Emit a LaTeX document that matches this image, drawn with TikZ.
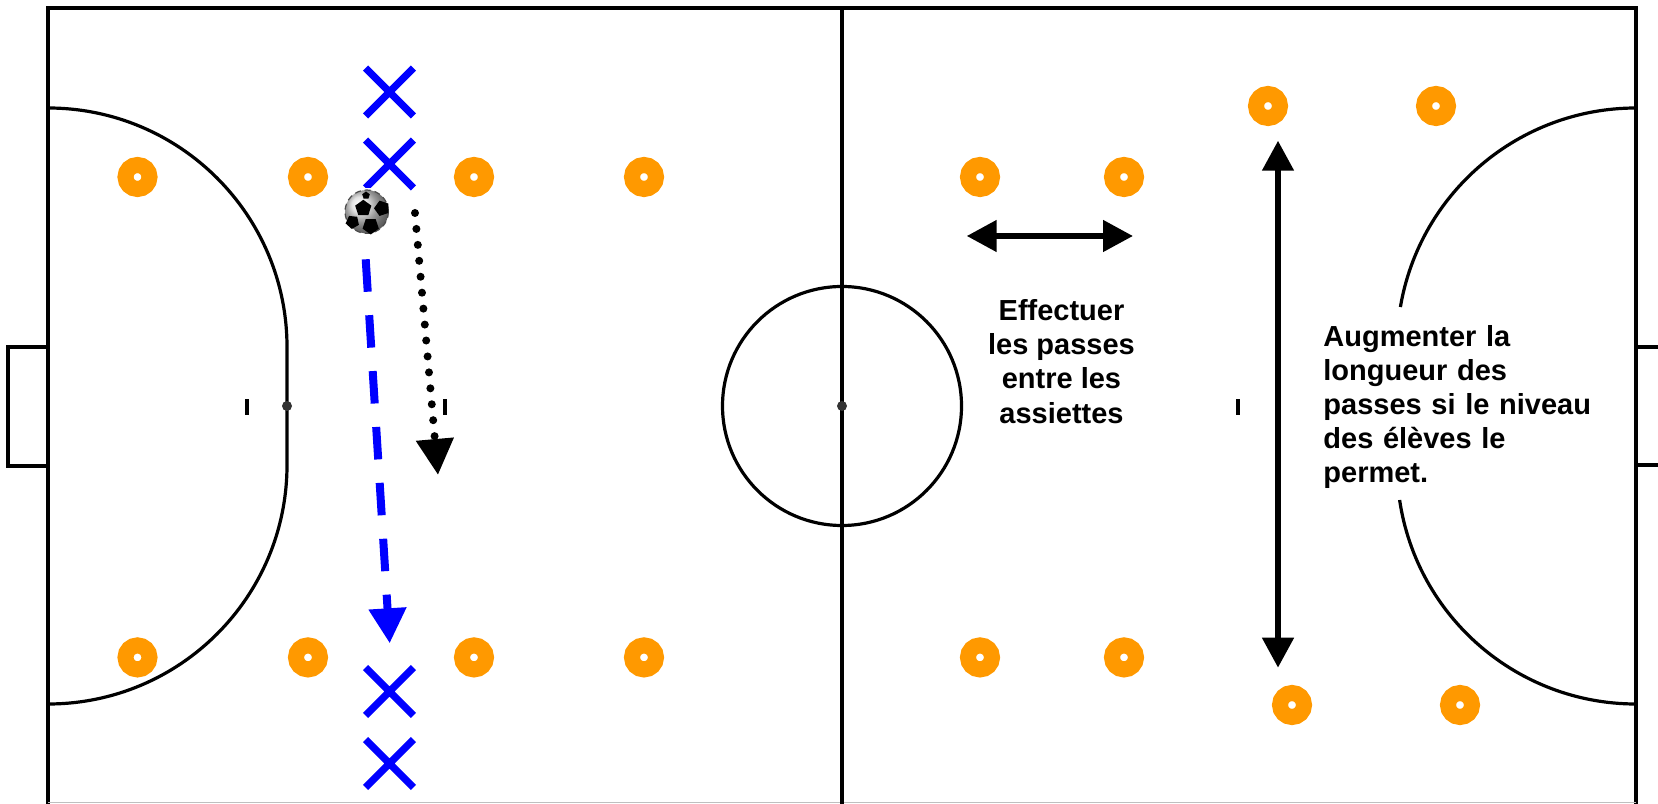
\documentclass[tikz,border=0pt]{standalone}
\usepackage{fontspec}
\setmainfont{Liberation Sans}
\usetikzlibrary{arrows.meta,shapes.misc,shapes.geometric}
\definecolor{conecol}{HTML}{FF9900}
\begin{document}
\begin{tikzpicture}[x=0.5pt, y=0.5pt, line join=miter,
    courtline/.style={line width=1.6pt},
    borderline/.style={line width=2pt},
    cone/.style={circle, draw=conecol, fill=white, line width=8pt, minimum size=12pt, inner sep=0pt, outer sep=0pt},
    player/.style={cross out, draw=blue, line width=3.7pt, minimum size=23.9pt, inner sep=0pt, outer sep=0pt},
    spot/.style={circle, fill=black!80, minimum size=5pt, inner sep=0pt},
    patch/.style={regular polygon, regular polygon sides=5, fill=black, inner sep=0pt},
    passarrow/.style={line width=3pt, {Triangle[length=15pt, width=15.3pt]}-{Triangle[length=15pt, width=15.3pt]}},
    note/.style={font=\bfseries\fontsize{14.5}{17.05}\selectfont}]
    \useasboundingbox (0,0) rectangle (1658,803);

    % Court
    \draw[borderline] (48,-2) -- (48,794.5) -- (1636,794.5) -- (1636,-2);
    \draw[gray!50, line width=0.5pt] (48,0.5) -- (1636,0.5);
    \draw[borderline] (842,-2) -- (842,794.5);
    \draw[courtline] (842,397) circle (119.5);
    \draw[courtline] (48,456) -- (8,456) -- (8,337) -- (48,337); % Goals
    \draw[courtline] (1636,456) -- (1660,456);
    \draw[courtline] (1636,338) -- (1660,338);
    \draw[courtline] (48,695) arc (90:0:239) -- (287,338) arc (0:-90:239);
    \draw[courtline] (1636,695) arc (90:170.37:239);
    \draw[courtline] (1399.6,303) arc (188.42:270:239);

    \draw[borderline] (246.7,388) -- (246.7,404);
    \draw[borderline] (445,388) -- (445,404);
    \draw[borderline] (1238,388) -- (1238,404);
    \node[spot] (spotL) at (287,397) {};
    \node[spot] (spotC) at (842,397) {};

    % Plates
    \node[cone] (a1) at (137.5,626) {};
    \node[cone] (a2) at (308,626) {};
    \node[cone] (a3) at (474,626) {};
    \node[cone] (a4) at (644,626) {};
    \node[cone] (a5) at (980,626) {};
    \node[cone] (a6) at (1124,626) {};
    \node[cone] (a7) at (1268,697) {};
    \node[cone] (a8) at (1436,697) {};
    \node[cone] (b1) at (137.5,145.6) {};
    \node[cone] (b2) at (308,145.6) {};
    \node[cone] (b3) at (474,145.6) {};
    \node[cone] (b4) at (644,145.6) {};
    \node[cone] (b5) at (980,145.6) {};
    \node[cone] (b6) at (1124,145.6) {};
    \node[cone] (b7) at (1292,98) {};
    \node[cone] (b8) at (1460,98) {};

    % Players
    \node[player] (P1) at (389.5,711) {};
    \node[player] (P2) at (389.5,639) {};
    \node[player] (P3) at (389.5,111.5) {};
    \node[player] (P4) at (389.5,39.5) {};

    % Ball
    \node[fill=white, minimum size=24pt, inner sep=0pt] (ballbox) at (366.5,590.5) {};
    \node[circle, minimum size=21.7pt, inner sep=0pt, shading=ball, ball color=gray!30, draw=black!70, densely dashed, line width=0.6pt] (ball) at (366.7,591.3) {};
    \node[patch, minimum size=8.5pt] (p1) at (363.3,594.7) {};
    \node[patch, minimum size=8pt, rotate=90] (p2) at (382,594.7) {};
    \node[patch, minimum size=7pt, rotate=30] (p3) at (352.5,581) {};
    \node[patch, minimum size=8.5pt, rotate=180] (p4) at (370.7,577) {};
    \node[patch, minimum size=4pt] (p5) at (366,607.5) {};

    % Runs and passes
    \coordinate (runA) at (365.7,543.7);
    \coordinate (runB) at (389.7,159.7);
    \coordinate (ballA) at (415,590);
    \coordinate (ballB) at (438,328);
    \coordinate (shortA) at (966.7,567);
    \coordinate (shortB) at (1133,567);

    \draw[blue, line width=4pt, dash pattern=on 16.25pt off 11.75pt, -{Triangle[length=17.5pt, width=18pt]}] (runA) -- (runB);
    \draw[line width=4pt, line cap=round, dash pattern=on 0pt off 8pt, -{Triangle[length=18pt, width=18pt]}] (ballA) -- (ballB);
    \draw[passarrow] (shortA) -- (shortB);

    % Texts
    \node[note, align=center] (noteA) at (1061.5,441.5) {Effectuer\\les passes\\entre les\\assiettes};
    \node[note, align=left, anchor=west, text width=140pt, inner sep=0pt] (noteB) at (1323,396) {Augmenter la\\longueur des\\passes si le niveau\\des élèves le\\permet.};

    \coordinate (longA) at (1278,662.3);
    \coordinate (longB) at (1278,135.3);
    \draw[passarrow] (longA) -- (longB);
\end{tikzpicture}
\end{document}
